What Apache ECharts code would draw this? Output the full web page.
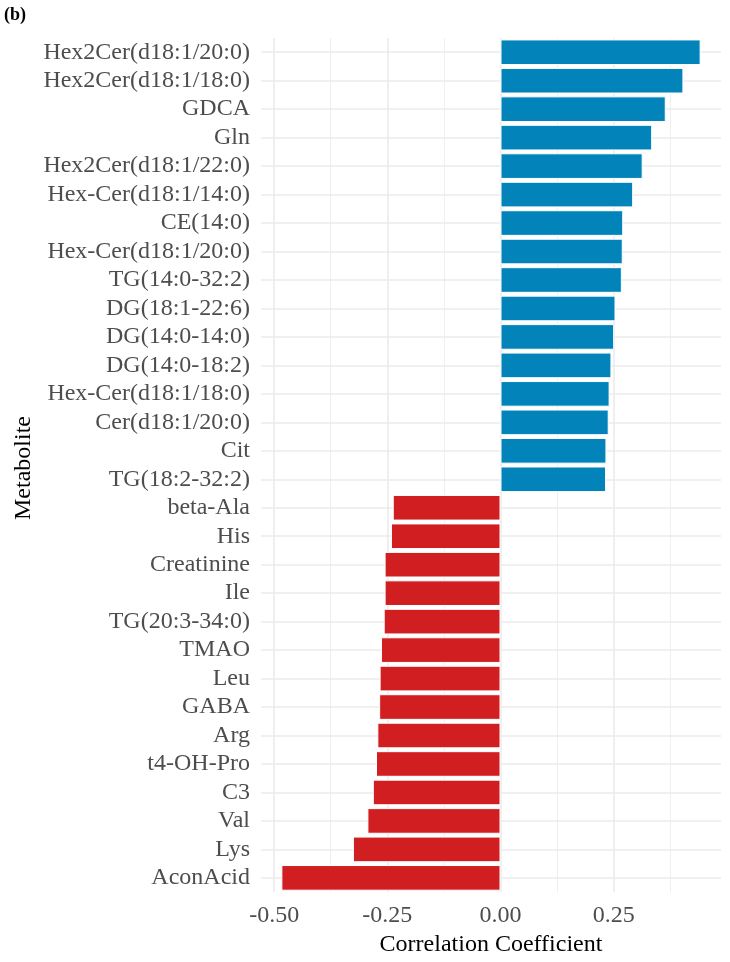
<!DOCTYPE html>
<html>
<head>
<meta charset="utf-8">
<script src="https://cdn.jsdelivr.net/npm/echarts@6/dist/echarts.min.js"></script>
<style>html,body{margin:0;padding:0;background:#fff;}#c{width:730px;height:962px;}</style>
</head>
<body>
<div id="c"></div>
<script>
const categories = [
  'Hex2Cer(d18:1/20:0)','Hex2Cer(d18:1/18:0)','GDCA','Gln','Hex2Cer(d18:1/22:0)',
  'Hex-Cer(d18:1/14:0)','CE(14:0)','Hex-Cer(d18:1/20:0)','TG(14:0-32:2)','DG(18:1-22:6)',
  'DG(14:0-14:0)','DG(14:0-18:2)','Hex-Cer(d18:1/18:0)','Cer(d18:1/20:0)','Cit',
  'TG(18:2-32:2)','beta-Ala','His','Creatinine','Ile','TG(20:3-34:0)','TMAO','Leu',
  'GABA','Arg','t4-OH-Pro','C3','Val','Lys','AconAcid'
];
const correlations = [
  0.442, 0.404, 0.365, 0.335, 0.314, 0.293, 0.271, 0.270, 0.268, 0.254,
  0.251, 0.245, 0.241, 0.239, 0.234, 0.233, -0.238, -0.242, -0.256, -0.256,
  -0.258, -0.264, -0.267, -0.268, -0.272, -0.275, -0.282, -0.294, -0.326, -0.484
];
const majorTicks = [-0.5, -0.25, 0, 0.25];
const minorTicks = [-0.375, -0.125, 0.125, 0.375];
const xLimits = [-0.529, 0.487];

const BLUE = '#0283B9';
const RED = '#D01E21';
const GRID = '#EBEBEB';
const FONT = '"Liberation Serif", "DejaVu Serif", serif';

const chart = echarts.init(document.getElementById('c'), null, {renderer: 'canvas'});
chart.setOption({
  animation: false,
  backgroundColor: '#fff',
  graphic: [{
    type: 'text', left: 4, top: 6,
    style: {text: '(b)', font: 'bold 18px ' + FONT, fill: '#000'}
  }, {
    type: 'text', x: 24, y: 468, rotation: Math.PI / 2,
    style: {text: 'Metabolite', font: '24px ' + FONT, fill: '#000', align: 'center', verticalAlign: 'middle'}
  }],
  grid: {left: 261, right: 9, top: 38, bottom: 64},
  xAxis: [{
    type: 'value', min: xLimits[0], max: xLimits[1],
    name: 'Correlation Coefficient', nameLocation: 'middle', nameGap: 33,
    nameTextStyle: {fontFamily: FONT, fontSize: 24, color: '#000'},
    axisLine: {show: false},
    axisTick: {show: false, customValues: majorTicks},
    axisLabel: {customValues: majorTicks, fontFamily: FONT, fontSize: 24, color: '#4D4D4D', margin: 12,
      formatter: v => v.toFixed(2)},
    splitLine: {show: true, lineStyle: {color: GRID, width: 1.6}}
  }, {
    type: 'value', min: xLimits[0], max: xLimits[1], gridIndex: 0, position: 'bottom',
    axisLine: {show: false},
    axisTick: {show: false, customValues: minorTicks},
    axisLabel: {show: false, customValues: minorTicks},
    splitLine: {show: true, lineStyle: {color: GRID, width: 0.8}}
  }],
  yAxis: {
    type: 'category', data: categories, inverse: true,
    axisLine: {show: false},
    axisTick: {show: false},
    axisLabel: {interval: 0, fontFamily: FONT, fontSize: 24, color: '#4D4D4D', margin: 11},
    splitLine: {show: true, interval: 0, alignWithLabel: true, lineStyle: {color: GRID, width: 1.6}}
  },
  series: [{
    type: 'bar', xAxisIndex: 0, z: 3,
    barCategoryGap: '10%',
    data: correlations.map(v => ({value: v, itemStyle: {color: v > 0 ? BLUE : RED}})),
    itemStyle: {borderColor: '#fff', borderWidth: 1}
  }]
});
</script>
</body>
</html>
